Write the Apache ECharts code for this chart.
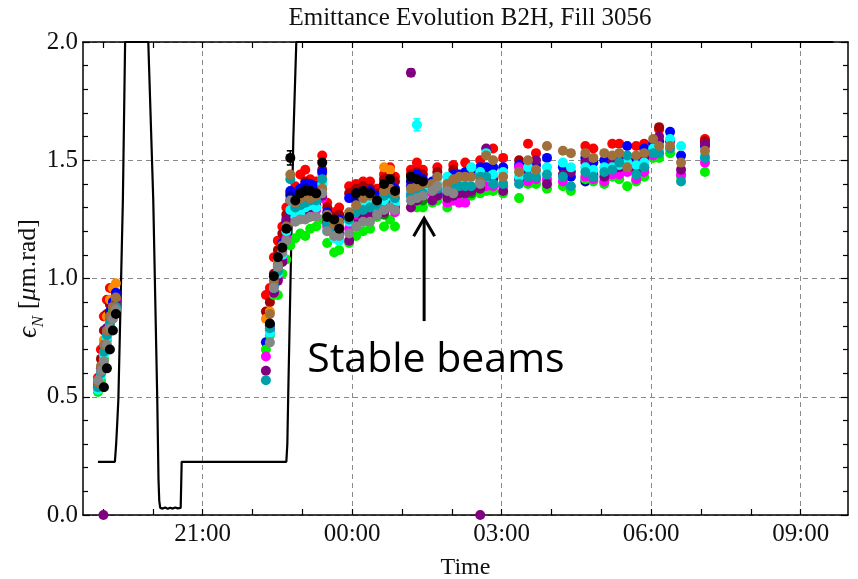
<!DOCTYPE html>
<html>
<head>
<meta charset="utf-8">
<script src="https://cdn.jsdelivr.net/npm/echarts@6/dist/echarts.min.js"></script>
<style>
html,body{margin:0;padding:0;background:#fff}
#chart{width:858px;height:579px}
</style>
</head>
<body>
<div id="chart"></div>
<script>
const _ = null;

// Measurement times, hours relative to midnight (negative = previous evening)
const times = [
  -5.10,-5.04,-4.98,-4.92,-4.86,-4.80,-4.74,
  -1.73,-1.65,-1.57,-1.49,-1.40,-1.32,-1.24,
  -1.14,-1.04,-0.94,-0.84,-0.72,-0.60,-0.50,-0.36,-0.26,
  -0.06,0.08,0.22,0.36,0.50,0.64,0.76,0.86,
  1.18,1.30,1.42,1.61,1.71,1.91,2.03,2.15,2.27,2.39,2.57,
  2.69,2.83,3.03,3.35,3.53,3.69,3.91,4.23,4.39,4.68,4.84,
  5.06,5.22,5.36,5.52,5.70,5.86,6.04,6.16,6.38,6.60,7.08
];

// Normalised emittance per bunch [um.rad], one value per measurement time
const red = [
  .58,.70,.84,.91,.96,_,_,
  .93,.96,1.09,1.16,1.22,1.30,1.36,
  1.39,1.44,1.46,1.42,1.41,1.52,1.32,1.28,1.30,
  1.39,1.40,1.41,1.41,1.38,1.44,1.47,1.43,
  1.46,1.49,1.46,_,1.47,_,1.48,_,1.49,_,1.50,
  _,1.55,1.51,_,1.57,1.53,_,_,_,1.56,1.55,
  _,1.57,1.57,_,1.56,1.57,_,1.63,_,_,1.59
];
const darkRed = [
  .56,.66,.78,.85,.89,_,_,
  .86,.90,1.02,1.12,1.19,1.27,1.33,
  1.36,1.38,1.41,1.40,1.39,1.46,1.30,1.26,1.27,
  1.36,1.38,1.39,1.38,1.36,1.42,1.44,1.41,
  1.44,1.45,1.44,_,1.45,_,1.46,_,_,_,_,
  _,_,_,1.50,_,_,_,_,_,_,_,
  _,_,_,_,_,_,_,1.64,_,_,1.58
];
const orange = [
  .55,.62,.74,.84,.91,.96,.98,
  .83,.86,.98,1.08,_,_,_,
  _,1.36,_,_,_,1.44,_,_,_,
  _,_,_,_,_,1.47,1.46,_,
  _,_,_,_,_,_,_,_,_,_,_,
  _,_,_,_,_,_,_,_,_,_,_,
  _,_,_,_,_,_,_,_,_,_,_
];
const blue = [
  .53,.60,.70,.79,.86,.90,.94,
  .73,.80,.97,1.05,1.15,1.24,1.37,
  1.35,1.38,1.40,1.40,1.39,1.45,1.28,1.24,1.25,
  1.34,1.36,1.37,1.37,1.35,1.38,1.40,1.38,
  1.39,1.44,1.42,1.41,1.43,1.35,1.44,1.44,1.45,1.45,1.47,
  1.47,1.47,1.47,1.48,1.48,1.48,1.51,1.47,1.43,1.51,1.49,
  1.50,1.51,1.51,1.56,1.50,1.55,1.57,1.58,1.62,1.52,1.56
];
const darkBlue = [
  _,_,_,_,_,_,_,
  _,.78,_,_,_,_,1.35,
  _,_,1.38,_,_,_,_,_,_,
  _,1.33,_,_,_,_,_,_,
  1.41,_,_,_,_,1.36,_,_,_,_,_,
  _,_,_,_,_,_,_,_,_,1.41,_,
  _,_,_,_,_,1.47,_,_,_,_,_
];
const green = [
  .52,.57,.66,.74,.81,.86,.89,
  .70,.76,.93,.93,1.02,1.08,1.14,
  1.17,1.19,1.18,1.21,1.22,1.25,1.15,1.11,1.12,
  1.15,1.18,1.20,1.21,1.26,1.22,1.25,1.22,
  _,1.30,1.30,1.32,1.33,1.30,1.33,1.33,1.34,1.35,1.36,
  1.37,1.37,1.36,1.34,1.40,1.40,1.38,1.39,1.37,1.42,1.41,
  1.40,1.43,1.42,1.39,1.41,1.43,1.51,1.51,1.53,1.43,1.45
];
const darkGreen = [
  _,_,_,_,_,_,_,
  _,_,_,_,_,_,_,
  _,_,_,_,_,_,_,_,_,
  _,_,_,_,_,1.27,_,_,
  _,_,1.33,_,_,_,_,_,_,1.36,_,
  _,_,_,_,_,_,_,_,_,_,_,
  _,_,_,_,_,1.46,_,_,_,_,_
];
const magenta = [
  .54,.61,.69,.77,.83,.88,.91,
  .67,.78,.94,1.00,1.08,1.17,1.24,
  1.28,1.29,1.31,1.30,1.29,1.34,1.22,1.19,1.18,
  1.21,1.24,1.25,1.26,1.27,1.29,1.31,1.28,
  1.36,1.38,1.38,1.36,1.36,1.32,1.33,1.32,1.32,_,_,
  1.39,1.39,1.39,1.47,1.41,1.42,1.42,1.41,_,1.43,1.42,
  1.41,1.44,1.44,1.45,1.42,1.45,1.52,_,_,1.44,1.49
];
const purple = [
  .55,.62,.71,.79,.84,.88,.89,
  .61,.80,.94,.99,1.07,1.25,1.28,
  1.30,1.28,1.29,1.30,1.31,1.35,1.24,1.20,1.19,
  1.16,1.23,1.26,1.27,1.28,1.28,1.32,1.30,
  1.30,1.33,1.35,1.33,1.35,1.34,1.35,1.36,1.36,1.37,1.38,
  1.55,1.42,1.37,1.42,1.45,1.50,1.40,1.44,1.45,1.49,1.44,
  1.43,1.49,1.47,1.50,1.46,1.51,1.54,1.60,1.58,1.46,1.57
];
const cyan = [
  .53,.59,.68,.75,.80,.84,.87,
  _,.77,.96,1.02,1.10,1.20,1.29,
  1.26,1.27,1.30,1.31,1.30,1.40,1.20,1.17,1.16,
  1.24,1.30,1.31,1.32,1.30,1.33,1.35,1.32,
  1.37,1.36,1.37,1.38,1.40,1.43,1.40,1.40,1.41,1.47,1.45,
  1.53,1.44,1.45,1.43,1.47,1.45,1.47,1.49,1.47,1.47,1.46,
  1.47,1.47,1.48,1.49,1.48,1.49,1.55,1.55,1.59,1.56,1.52
];
const darkCyan = [
  .54,.60,.69,.76,.81,.85,.88,
  .57,.79,.97,1.03,1.12,1.22,1.42,
  1.30,1.31,1.32,1.33,1.33,1.42,1.23,1.21,1.22,
  1.25,1.28,1.29,1.30,1.31,1.35,1.36,1.34,
  1.35,1.35,1.36,1.39,1.38,1.38,1.38,1.39,1.39,1.39,1.43,
  1.43,1.40,1.40,1.40,1.43,1.43,1.44,1.43,1.39,1.45,1.43,
  1.45,1.46,1.49,1.52,1.44,1.47,1.53,1.53,1.55,1.41,1.51
];
const brown = [
  .56,.63,.72,.78,.84,.88,.92,
  _,.85,.99,1.06,1.14,1.22,1.44,
  1.32,1.34,1.35,1.34,1.35,1.38,1.27,1.23,1.24,
  1.28,1.31,1.34,1.35,1.33,1.37,1.38,1.36,
  1.38,1.39,1.40,1.40,1.43,1.40,1.42,1.43,1.43,1.43,1.41,
  1.52,1.50,1.43,1.45,1.50,1.46,1.56,1.54,1.53,1.53,1.51,
  1.53,1.52,1.53,1.47,1.52,1.53,1.59,1.56,1.56,1.49,1.54
];
const gray = [
  .57,.61,.65,.72,.79,.83,.87,
  _,.73,.96,1.05,1.11,1.16,1.33,
  1.24,1.25,1.25,1.26,1.26,1.36,1.20,1.18,1.18,
  1.19,1.22,1.24,1.24,1.27,1.29,1.30,1.29,
  1.33,1.34,1.35,1.37,1.39,1.37,1.36,_,_,_,1.40,
  _,_,_,_,_,_,_,_,_,_,_,
  _,_,_,_,_,_,_,_,_,_,_
];
const black = [
  _,_,.54,.62,.70,.78,.85,
  _,.81,1.01,1.09,1.13,1.21,1.51,
  1.33,1.36,1.37,1.37,1.36,1.49,1.26,1.25,1.21,
  1.26,1.36,1.37,1.36,1.33,1.40,1.42,1.37,
  1.43,1.42,1.41,_,_,_,_,_,_,_,_,
  _,_,_,_,_,_,_,_,_,_,_,
  _,_,_,_,_,_,_,_,_,_,_
];

// Isolated readings off the main time grid: [time, value]
const purpleExtra = [[-4.99, 0.0], [2.57, 0.0], [1.18, 1.87]];
const cyanExtra = [[1.30, 1.65]];

// Visible error bars: [time, value, half-width, bunch series]
const errorBars = [[-1.24, 1.51, 0.03, 'black'], [1.30, 1.65, 0.025, 'cyan'], [1.18, 1.87, 0.015, 'purple']];

// Beam mode / energy trace (scaled to the emittance axis)
const beamTrace = [
  [-5.10,0.225],[-4.76,0.225],[-4.735,0.30],[-4.715,0.38],[-4.69,0.49],[-4.60,1.33],[-4.555,2.0],
  [-4.09,2.0],[-3.99,1.33],[-3.91,0.49],[-3.885,0.15],[-3.87,0.06],[-3.85,0.03],
  [-3.80,0.027],[-3.75,0.032],[-3.70,0.026],[-3.65,0.031],[-3.60,0.027],[-3.55,0.032],[-3.50,0.028],[-3.44,0.03],
  [-3.42,0.225],[-1.32,0.225],[-1.30,0.30],[-1.28,0.53],[-1.18,1.59],[-1.12,2.0],[9.65,2.0]
];

// Axis ticks
const hourTicks = [-5,-4,-3,-2,-1,0,1,2,3,4,5,6,7,8,9];
const xTickHours = [-3, 0, 3, 6, 9];
const xTickLabels = ['21:00', '00:00', '03:00', '06:00', '09:00'];

// Annotation anchors in data units
const noteAt = [-0.90, 0.655];
const arrowTail = [1.445, 0.82];
const arrowTip = [1.445, 1.255];

const bunchSeries = [
  ['red', red, '#ff0000'],
  ['darkRed', darkRed, '#a80000'],
  ['orange', orange, '#ff8a00'],
  ['blue', blue, '#0000ff'],
  ['darkBlue', darkBlue, '#0000a8'],
  ['green', green, '#00f000'],
  ['darkGreen', darkGreen, '#009000'],
  ['magenta', magenta, '#ff00ff'],
  ['purple', purple, '#800080'],
  ['cyan', cyan, '#00ffff'],
  ['darkCyan', darkCyan, '#00a0a8'],
  ['brown', brown, '#a0703c'],
  ['gray', gray, '#868686'],
  ['black', black, '#000000']
];
const extras = { purple: purpleExtra, cyan: cyanExtra };

const serif = '"Liberation Serif", "DejaVu Serif", serif';
const xMin = -5.4, xMax = 9.95;

const chart = echarts.init(document.getElementById('chart'), null, { renderer: 'canvas' });

const series = [];
series.push({
  type: 'line',
  data: beamTrace,
  xAxisIndex: 0, yAxisIndex: 0,
  symbol: 'none',
  lineStyle: { color: '#000', width: 2.2 },
  z: 2,
  silent: true,
  animation: false
});
series.push({
  type: 'custom',
  xAxisIndex: 0, yAxisIndex: 0,
  data: errorBars.map(e => [e[0], e[1], e[2], bunchSeries.findIndex(d => d[0] === e[3])]),
  renderItem: function (params, api) {
    const t = api.value(0), v = api.value(1), e = api.value(2);
    const c = bunchSeries[api.value(3)][2];
    const a = api.coord([t, v + e]);
    const b = api.coord([t, v - e]);
    const st = { stroke: c, lineWidth: 1.6 };
    return {
      type: 'group',
      children: [
        { type: 'line', shape: { x1: a[0], y1: a[1], x2: b[0], y2: b[1] }, style: st },
        { type: 'line', shape: { x1: a[0] - 3.5, y1: a[1], x2: a[0] + 3.5, y2: a[1] }, style: st },
        { type: 'line', shape: { x1: b[0] - 3.5, y1: b[1], x2: b[0] + 3.5, y2: b[1] }, style: st }
      ]
    };
  },
  z: 3,
  silent: true,
  animation: false
});
bunchSeries.forEach(d => {
  const pts = [];
  d[1].forEach((v, i) => { if (v !== null) pts.push([times[i], v]); });
  (extras[d[0]] || []).forEach(p => pts.push(p));
  series.push({
    name: d[0],
    type: 'scatter',
    xAxisIndex: 0, yAxisIndex: 0,
    data: pts,
    symbol: 'circle',
    symbolSize: 10,
    itemStyle: { color: d[2], opacity: 1 },
    clip: true,
    z: 4,
    silent: true,
    animation: false
  });
});

const frameLine = { show: true, onZero: false, lineStyle: { color: '#000', width: 1.5 } };
const gridDash = { type: [5, 4], color: '#8a8a8a', width: 1 };

chart.setOption({
  backgroundColor: '#fff',
  animation: false,
  title: {
    text: 'Emittance Evolution B2H, Fill 3056',
    left: 465,
    textAlign: 'center',
    top: 1,
    textStyle: { fontFamily: serif, fontSize: 25, fontWeight: 'normal', color: '#111' }
  },
  grid: { left: 83, right: 10, top: 42, bottom: 64, containLabel: false, outerBoundsMode: 'none' },
  xAxis: [
    {
      type: 'value', min: xMin, max: xMax, position: 'bottom',
      axisLine: frameLine,
      axisTick: { show: true, inside: true, length: 6, customValues: hourTicks, lineStyle: { color: '#000', width: 1.2 } },
      axisLabel: {
        show: true, customValues: xTickHours, margin: 7,
        formatter: v => xTickLabels[xTickHours.indexOf(Math.round(v))] || '',
        fontFamily: serif, fontSize: 25, color: '#111'
      },
      splitLine: { show: false },
      name: 'Time', nameLocation: 'middle', nameGap: 41, nameMoveOverlap: false,
      nameTextStyle: { fontFamily: serif, fontSize: 24, color: '#111' }
    },
    {
      type: 'value', min: xMin, max: xMax, position: 'top',
      axisLine: frameLine,
      axisTick: { show: true, inside: true, length: 6, customValues: hourTicks, lineStyle: { color: '#000', width: 1.2 } },
      axisLabel: { show: false },
      splitLine: { show: false }
    },
    {
      type: 'value', min: xMin, max: xMax, position: 'bottom',
      axisLine: { show: false },
      axisTick: { show: false, customValues: xTickHours },
      axisLabel: { show: false, customValues: xTickHours },
      splitLine: { show: true, lineStyle: gridDash }
    }
  ],
  yAxis: [
    {
      type: 'value', min: 0, max: 2, interval: 0.5, position: 'left',
      axisLine: frameLine,
      axisTick: { show: true, inside: true, length: 7, lineStyle: { color: '#000', width: 1.2 } },
      minorTick: { show: true, splitNumber: 5, length: 5, lineStyle: { color: '#000', width: 1.2 } },
      axisLabel: { formatter: v => v.toFixed(1), fontFamily: serif, fontSize: 25, color: '#111', margin: 5 },
      splitLine: { show: true, lineStyle: gridDash },
      name: '{e|\u03f5}{n|N} [{m|\u03bc}m.rad]',
      nameLocation: 'middle', nameRotate: 90, nameGap: 36, nameMoveOverlap: false,
      nameTextStyle: {
        fontFamily: serif, fontSize: 26, color: '#111',
        rich: {
          e: { fontFamily: serif, fontSize: 27, fontStyle: 'italic', color: '#111', lineHeight: 31 },
          n: { fontFamily: serif, fontSize: 17, fontStyle: 'italic', color: '#111', lineHeight: 37, verticalAlign: 'bottom' },
          m: { fontFamily: serif, fontSize: 26, fontStyle: 'italic', color: '#111', lineHeight: 31 }
        }
      }
    },
    {
      type: 'value', min: 0, max: 2, interval: 0.5, position: 'right',
      axisLine: frameLine,
      axisTick: { show: true, inside: true, length: 7, lineStyle: { color: '#000', width: 1.2 } },
      minorTick: { show: true, splitNumber: 5, length: 5, lineStyle: { color: '#000', width: 1.2 } },
      axisLabel: { show: false },
      splitLine: { show: false }
    }
  ],
  series: series
});

// "Stable beams" annotation placed through the axis scales
const toPx = p => chart.convertToPixel({ xAxisIndex: 0, yAxisIndex: 0 }, p);
const n = toPx(noteAt), tail = toPx(arrowTail), tip = toPx(arrowTip);
chart.setOption({
  graphic: [
    {
      type: 'text', x: n[0], y: n[1], z: 10, silent: true,
      style: { text: 'Stable beams', font: '41px "Open Sans", "Noto Sans", sans-serif', fill: '#000', verticalAlign: 'middle', align: 'left' }
    },
    {
      type: 'line', z: 10, silent: true,
      shape: { x1: tail[0], y1: tail[1], x2: tip[0], y2: tip[1] + 1 },
      style: { stroke: '#000', lineWidth: 3 }
    },
    {
      type: 'polyline', z: 10, silent: true,
      shape: { points: [[tip[0] - 10.5, tip[1] + 18], [tip[0], tip[1]], [tip[0] + 10.5, tip[1] + 18]] },
      style: { stroke: '#000', lineWidth: 3, fill: null, lineJoin: 'miter' }
    }
  ]
});
</script>
</body>
</html>
